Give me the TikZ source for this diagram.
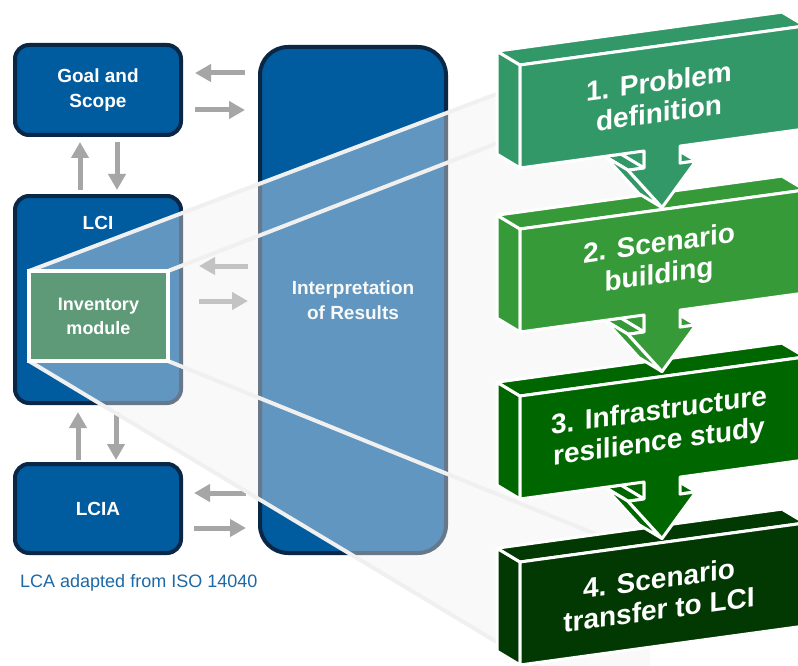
\documentclass[tikz,border=0pt]{standalone}
\usepackage{fontspec}
\setmainfont{Liberation Sans}
\usetikzlibrary{arrows.meta,calc}
\definecolor{lcablue}{RGB}{0,91,159}
\definecolor{lcaedge}{RGB}{10,40,70}
\definecolor{arrowgray}{RGB}{166,166,166}
\definecolor{modgreen}{RGB}{95,154,120}
\definecolor{capblue}{RGB}{30,105,165}
\definecolor{beamgray}{RGB}{240,240,240}
\definecolor{stepa}{RGB}{51,152,103}
\definecolor{stepb}{RGB}{53,154,55}
\definecolor{stepc}{RGB}{0,102,0}
\definecolor{stepd}{RGB}{2,56,2}
\begin{document}
\begin{tikzpicture}[x=1pt,y=-1pt,
	phasetext/.style={text=white,font=\fontsize{19}{25}\selectfont\bfseries,align=center,inner sep=0pt},
	phase/.style={phasetext,draw=lcaedge,line width=4pt,fill=lcablue,rounded corners=14pt},
	flow/.style={draw=arrowgray,line width=5pt,-{Triangle[length=16pt,width=17pt]}},
	beam/.style={draw=beamgray,line width=4pt},
	blockface/.style={fill=#1,draw=white,line width=3pt,line join=round}]
		\clip (0,0) rectangle (798,666);
		\fill [white] (0,0) rectangle (798,666);
		\node [phase,minimum width=166pt,minimum height=90pt] (goal) at (98,90) {Goal and\\Scope};
		\node [phase,minimum width=166pt,minimum height=207pt] (lci) at (98,299.5) {};
		\node [phasetext] (lcilabel) at (98,223) {LCI};
		\node [phase,minimum width=166pt,minimum height=89pt] (lcia) at (98,508.5) {LCIA};
		\node [phase,rounded corners=28pt,minimum width=186pt,minimum height=506pt] (interp) at (353,300) {Interpretation\\of Results};
		\node [text=capblue,font=\fontsize{18}{22}\selectfont,anchor=west,inner sep=0pt] (caption) at (20,583) {LCA adapted from ISO 14040};
		\draw [flow] ($(interp.west|-goal.east)+(-13,-17)$) -- ($(goal.east)+(12,-17)$);
		\draw [flow] ($(goal.east)+(12,20)$) -- ($(interp.west|-goal.east)+(-13,20)$);
		\draw [flow] ($(interp.west|-lci.east)+(-10,-33.5)$) -- ($(lci.east)+(16,-33.5)$);
		\draw [flow] ($(lci.east)+(16,1.5)$) -- ($(interp.west|-lci.east)+(-10,1.5)$);
		\draw [flow] ($(interp.west|-lcia.east)+(-12,-15.5)$) -- ($(lcia.east)+(11,-15.5)$);
		\draw [flow] ($(lcia.east)+(11,19.5)$) -- ($(interp.west|-lcia.east)+(-12,19.5)$);
		\draw [flow] ($(lci.north)+(-18,-4)$) -- ($(goal.south)+(-18,5)$);
		\draw [flow] ($(goal.south)+(19,5)$) -- ($(lci.north)+(19,-4)$);
		\draw [flow] ($(lcia.north)+(-20,-2)$) -- ($(lci.south)+(-20,7)$);
		\draw [flow] ($(lci.south)+(18,7)$) -- ($(lcia.north)+(18,-2)$);
		\coordinate (mnw) at (29,271);
		\coordinate (mne) at (168,271);
		\coordinate (msw) at (29,361);
		\coordinate (mse) at (168,361);
		\coordinate (f1) at (650,36);
		\coordinate (f2) at (650,84);
		\coordinate (f3) at (650,556);
		\coordinate (f4) at (650,734);
		\fill [black!6,fill opacity=0.4] (mnw) -- (f1) -- (f4) -- (msw) -- cycle;
		\draw [beam] (mnw) -- (f1);
		\draw [beam] (mne) -- (f2);
		\draw [beam] (mse) -- (f3);
		\draw [beam] (msw) -- (f4);
		\node [phasetext,font=\fontsize{18}{24}\selectfont\bfseries,draw=white,line width=4pt,fill=modgreen,minimum width=139pt,minimum height=90pt] (module) at ($(mnw)!0.5!(mse)$) {Inventory\\module};
		\foreach \idx/\ytop/\tone/\steptext in {4/562/stepd/{4. Scenario\\transfer to LCI},3/396/stepc/{3. Infrastructure\\resilience study},2/229/stepb/{2. Scenario\\building},1/65/stepa/{1. Problem\\definition}}{
			\begin{scope}[shift={(520,\ytop)},yslant=0.137]
				\path [blockface=\tone] (0,103) -- (0,0) -- (-23,-17) -- (-23,86) -- cycle;
				\path [blockface=\tone] (0,0) -- (285,0) -- (262,-17) -- (-23,-17) -- cycle;
				\ifnum\idx<4
					\path [blockface=\tone] (124,120) -- (124,103) -- (101,86) -- (101,103) -- cycle;
					\path [blockface=\tone] (108,120) -- (124,120) -- (101,103) -- (85,103) -- cycle;
					\path [blockface=\tone] (142,162) -- (108,120) -- (85,103) -- (119,145) -- cycle;
					\path [blockface=\tone] (160,120) -- (176,120) -- (153,103) -- (137,103) -- cycle;
					\path [blockface=\tone] (0,0) -- (285,0) -- (285,103) -- (160,103) -- (160,120) -- (176,120) -- (142,162) -- (108,120) -- (124,120) -- (124,103) -- (0,103) -- cycle;
				\else
					\path [blockface=\tone] (0,0) -- (285,0) -- (285,103) -- (0,103) -- cycle;
				\fi
				\node [transform shape,text=white,font=\fontsize{28}{31}\selectfont\bfseries,align=center] (step\idx) at (139,51) {\steptext};
			\end{scope}
		}
	\end{tikzpicture}
\end{document}
